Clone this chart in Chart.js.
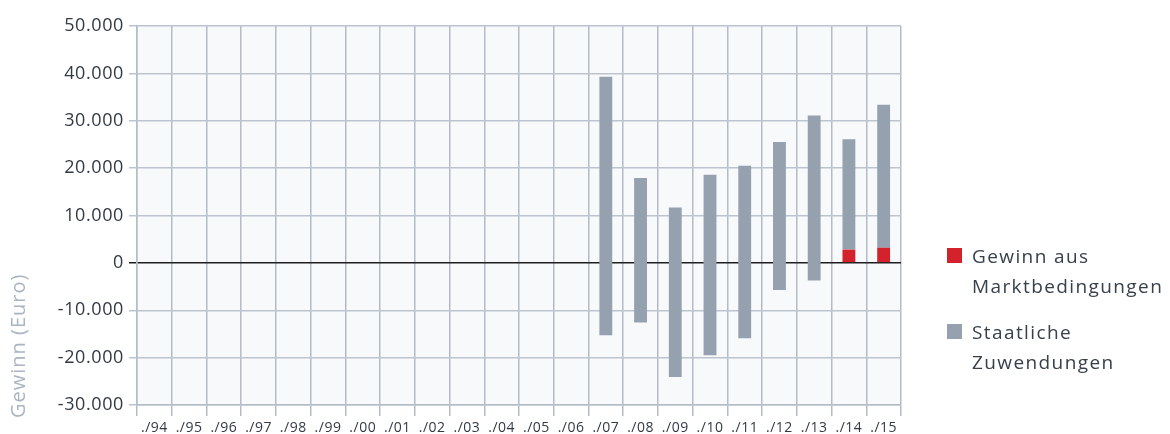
<!DOCTYPE html>
<html><head><meta charset="utf-8">
<script src="https://cdn.jsdelivr.net/npm/chart.js@4"></script>
<style>html,body{margin:0;padding:0;background:#fff}#wrap{width:1170px;height:434px;position:relative}canvas{display:block}</style>
</head><body><div id="wrap"><canvas id="c" width="1170" height="434"></canvas></div>
<script>
const categories = ['./94','./95','./96','./97','./98','./99','./00','./01','./02','./03','./04','./05','./06','./07','./08','./09','./10','./11','./12','./13','./14','./15'];
// Staatliche Zuwendungen: [low, high] (null = no bar)
const staatLow  = [null,null,null,null,null,null,null,null,null,null,null,null,null,-15300,-12600,-24100,-19500,-15900,-5700,-3700,2800,3200];
const staatHigh = [null,null,null,null,null,null,null,null,null,null,null,null,null, 39300, 17900, 11700, 18600, 20500,25500,31100,26100,33400];
// Gewinn aus Marktbedingungen
const marktValues = [null,null,null,null,null,null,null,null,null,null,null,null,null,null,null,null,null,null,null,null,2800,3200];
const yTicks = [-30000,-20000,-10000,0,10000,20000,30000,40000,50000];
const legendItems = [
  {color:'#d3222b', lines:['Gewinn aus','Marktbedingungen']},
  {color:'#95a1ae', lines:['Staatliche','Zuwendungen']}
];
const yTitle = 'Gewinn (Euro)';

const FONT = '"Open Sans", sans-serif';
function fmt(v){ const s = Math.abs(v).toString().replace(/\B(?=(\d{3})+(?!\d))/g,'.'); return (v<0?'-':'')+s; }

const staatData = staatLow.map((l,i)=> l===null ? null : [l, staatHigh[i]]);
const marktData = marktValues.map(v=> v===null ? null : [0, v]);

const bgPlugin = {
  id:'bg',
  beforeDraw(chart){
    const {ctx, chartArea:a} = chart;
    ctx.save(); ctx.fillStyle='#f7f9fb'; ctx.fillRect(a.left,a.top,a.right-a.left,a.bottom-a.top); ctx.restore();
  },
  afterDraw(chart){
    const {ctx, chartArea:a} = chart;
    ctx.save();
    ctx.translate(19, a.bottom + 13);
    ctx.rotate(-Math.PI/2);
    ctx.letterSpacing = '1px';
    ctx.font = '20px '+FONT; ctx.fillStyle = '#a9b5c3'; ctx.textAlign='left'; ctx.textBaseline='middle';
    ctx.fillText(yTitle, 0, 0);
    ctx.restore();
    ctx.save();
    let y0 = 248;
    legendItems.forEach((it, k)=>{
      const y = y0 + k*76;
      ctx.fillStyle = it.color; ctx.fillRect(947, y, 15, 15);
      ctx.letterSpacing = '1.4px';
      ctx.font = '500 19px '+FONT; ctx.fillStyle = '#37404b'; ctx.textAlign='left'; ctx.textBaseline='alphabetic';
      it.lines.forEach((ln, j)=> ctx.fillText(ln, 972, y + 15 + j*30));
    });
    ctx.restore();
  }
};

const chart = new Chart(document.getElementById('c'), {
  type:'bar',
  data:{
    labels: categories,
    datasets:[
      {label:'Gewinn aus Marktbedingungen', data: marktData, backgroundColor:'#d3222b', barPercentage:0.37, categoryPercentage:1, grouped:false, order:0},
      {label:'Staatliche Zuwendungen', data: staatData, backgroundColor:'#95a1ae', barPercentage:0.37, categoryPercentage:1, grouped:false, order:1}
    ]
  },
  options:{
    responsive:false, maintainAspectRatio:false, animation:false, devicePixelRatio:1,
    layout:{padding:{left:0, right:269, top:26, bottom:0}},
    plugins:{legend:{display:false}, tooltip:{enabled:false}},
    scales:{
      x:{
        grid:{offset:true, color:'#b3bcc7', lineWidth:1.5, tickLength:11},
        border:{color:'#b3bcc7', width:1.5},
        ticks:{font:{family:FONT, size:14, weight:'500'}, color:'#333a44', maxRotation:0, minRotation:0, autoSkip:false, padding:4},
        afterFit(s){ s.height = 29; }
      },
      y:{
        min:-30000, max:50000,
        afterBuildTicks(s){ s.ticks = yTicks.map(v=>({value:v})); },
        grid:{color:(c)=> c.tick && c.tick.value===0 ? '#1e1e1e' : '#bcc5cf', lineWidth:1.5, tickLength:8},
        border:{color:'#b3bcc7', width:1.5},
        ticks:{font:{family:FONT, size:18, weight:'500'}, color:'#333a44', padding:5, autoSkip:false, callback:(v)=>fmt(v)},
        afterFit(s){ s.width = 137; }
      }
    }
  },
  plugins:[bgPlugin]
});
function spaced(scale, sp){
  const orig = scale.drawLabels;
  scale.drawLabels = function(a){ const c=this.ctx; c.save(); c.letterSpacing = sp; orig.call(this,a); c.restore(); };
}
spaced(chart.scales.x, '0.5px');
spaced(chart.scales.y, '0.6px');
chart.draw();
</script>
</body></html>
